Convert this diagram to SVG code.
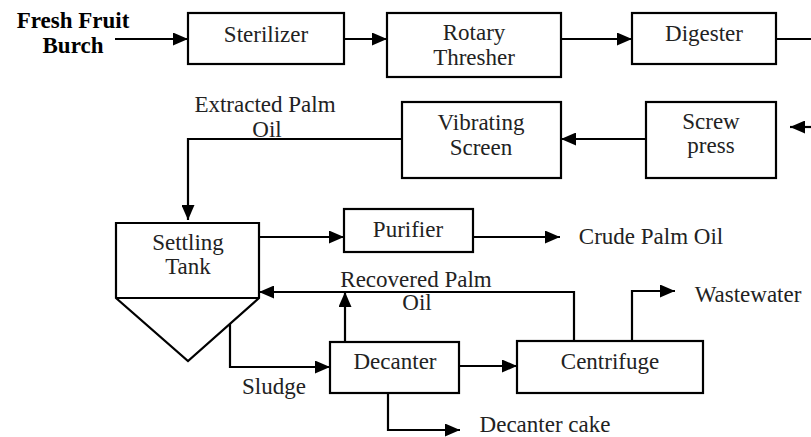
<svg xmlns="http://www.w3.org/2000/svg" width="811" height="437" viewBox="0 0 811 437">
<style>
.box{fill:#fff;stroke:#000;stroke-width:2.2}
.t{font-family:"Liberation Serif","Times New Roman",serif;font-size:23px;fill:#222;text-anchor:middle}
.b{font-weight:bold;fill:#000}
.c{fill:none;stroke:#000;stroke-width:2.2}
</style>
<defs>
<marker id="ah" markerUnits="userSpaceOnUse" markerWidth="15" markerHeight="13" refX="15" refY="6.5" orient="auto">
<path d="M0,0 L15,6.5 L0,13 z" fill="#000"/>
</marker>
</defs>
<rect width="811" height="437" fill="#fff"/>
<g id="connectors">
<path class="c" d="M115,39 H188" marker-end="url(#ah)"/>
<path class="c" d="M344,39 H387" marker-end="url(#ah)"/>
<path class="c" d="M561,39 H632" marker-end="url(#ah)"/>
<path class="c" d="M776,39 H811"/>
<path class="c" d="M811,127 H790" marker-end="url(#ah)"/>
<path class="c" d="M646,139 H561" marker-end="url(#ah)"/>
<path class="c" d="M402,139 H188 V220" marker-end="url(#ah)"/>
<path class="c" d="M259,237 H344" marker-end="url(#ah)"/>
<path class="c" d="M473,237 H560" marker-end="url(#ah)"/>
<path class="c" d="M574,341 V292 H259" marker-end="url(#ah)"/>
<path class="c" d="M345,342 V292" marker-end="url(#ah)"/>
<path class="c" d="M230,278 V367 H330" marker-end="url(#ah)"/>
<path class="c" d="M459,366 H517" marker-end="url(#ah)"/>
<path class="c" d="M388,393 V430 H460" marker-end="url(#ah)"/>
<path class="c" d="M632,341 V291 H675" marker-end="url(#ah)"/>
</g>
<g id="input">
<text class="t b" x="73" y="28">Fresh Fruit</text>
<text class="t b" x="73" y="53">Burch</text>
</g>
<g id="sterilizer">
<rect class="box" x="188" y="13" width="156" height="51"/>
<text class="t" x="266" y="42">Sterilizer</text>
</g>
<g id="rotary-thresher">
<rect class="box" x="387" y="13" width="174" height="64"/>
<text class="t" x="474" y="40">Rotary</text>
<text class="t" x="474" y="65">Thresher</text>
</g>
<g id="digester">
<rect class="box" x="632" y="13" width="144" height="51"/>
<text class="t" x="704" y="41">Digester</text>
</g>
<g id="screw-press">
<rect class="box" x="646" y="102" width="130" height="76"/>
<text class="t" x="711" y="129">Screw</text>
<text class="t" x="711" y="153">press</text>
</g>
<g id="vibrating-screen">
<rect class="box" x="402" y="102" width="159" height="76"/>
<text class="t" x="481" y="130">Vibrating</text>
<text class="t" x="481" y="155">Screen</text>
</g>
<g id="extracted-label">
<text class="t" x="265" y="112">Extracted Palm</text>
<text class="t" x="267" y="137">Oil</text>
</g>
<g id="settling-tank">
<path class="box" d="M116,223 H259 V298 L188,361 L116,298 Z"/>
<path class="c" d="M116,298 H259"/>
<text class="t" x="188" y="250">Settling</text>
<text class="t" x="188" y="274">Tank</text>
</g>
<g id="purifier">
<rect class="box" x="344" y="209" width="129" height="43"/>
<text class="t" x="408" y="237">Purifier</text>
</g>
<g id="crude-palm-oil">
<text class="t" x="651" y="244">Crude Palm Oil</text>
</g>
<g id="recovered-label">
<text class="t" x="416" y="287">Recovered Palm</text>
<text class="t" x="417" y="310">Oil</text>
</g>
<g id="decanter">
<rect class="box" x="330" y="342" width="129" height="51"/>
<text class="t" x="395" y="369">Decanter</text>
</g>
<g id="centrifuge">
<rect class="box" x="517" y="341" width="186" height="52"/>
<text class="t" x="610" y="369">Centrifuge</text>
</g>
<g id="wastewater">
<text class="t" x="748" y="302">Wastewater</text>
</g>
<g id="sludge">
<text class="t" x="274" y="394">Sludge</text>
</g>
<g id="decanter-cake">
<text class="t" x="545" y="432">Decanter cake</text>
</g>
</svg>
